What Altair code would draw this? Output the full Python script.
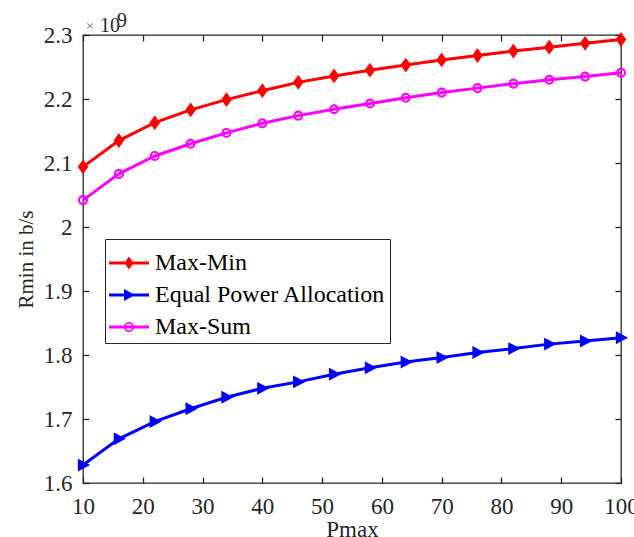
import altair as alt
import pandas as pd

# ---- data (values in units of 1e9 b/s) ----
pmax = [10, 16, 22, 28, 34, 40, 46, 52, 58, 64, 70, 76, 82, 88, 94, 100]
series_names = ["Max-Min", "Equal Power Allocation", "Max-Sum"]
max_min = [2.094, 2.135, 2.163, 2.183, 2.199, 2.213, 2.226, 2.236, 2.245, 2.253,
           2.261, 2.268, 2.275, 2.281, 2.287, 2.293]
equal_power = [1.628, 1.669, 1.696, 1.716, 1.734, 1.748, 1.758, 1.770, 1.780, 1.789,
               1.796, 1.804, 1.810, 1.817, 1.822, 1.827]
max_sum = [2.042, 2.083, 2.111, 2.130, 2.147, 2.162, 2.174, 2.184, 2.193, 2.202,
           2.210, 2.217, 2.224, 2.230, 2.235, 2.241]
x_ticks = [10, 20, 30, 40, 50, 60, 70, 80, 90, 100]
y_ticks = [1.6, 1.7, 1.8, 1.9, 2.0, 2.1, 2.2, 2.3]

colors = ["#ff0000", "#0000ff", "#ff00ff"]

# legend glyphs: a filled bar (the line sample) plus the marker, all as fill
LINE = "M-1,-0.07L1,-0.07L1,0.07L-1,0.07Z"
RING = ("M0.25,0C0.25,0.138,0.138,0.25,0,0.25C-0.138,0.25,-0.25,0.138,-0.25,0"
        "C-0.25,-0.138,-0.138,-0.25,0,-0.25C0.138,-0.25,0.25,-0.138,0.25,0Z"
        "M0.17,0C0.17,-0.094,0.094,-0.17,0,-0.17C-0.094,-0.17,-0.17,-0.094,-0.17,0"
        "C-0.17,0.094,-0.094,0.17,0,0.17C0.094,0.17,0.17,0.094,0.17,0Z")
legend_shapes = [
    LINE + "M0,-0.33L0.23,0L0,0.33L-0.23,0Z",
    LINE + "M-0.25,-0.3L0.3,0L-0.25,0.3Z",
    LINE + RING,
]
diamond = "M0,-1L0.72,0L0,1L-0.72,0Z"
tri_right = "M-0.8,-0.95L1,0L-0.8,0.95Z"

rows = []
for name, vals in zip(series_names, [max_min, equal_power, max_sum]):
    for p, v in zip(pmax, vals):
        rows.append({"Pmax": p, "Rmin": v, "series": name})
df = pd.DataFrame(rows)

FONT = "Liberation Serif"
TXT = "#262626"
AX = "#262626"

xs = alt.Scale(domain=[10, 100], nice=False, zero=False)
ys = alt.Scale(domain=[1.6, 2.3], nice=False, zero=False)

x_bottom = alt.Axis(orient="bottom", values=x_ticks, title="Pmax", domain=False, grid=False,
                    tickSize=6, offset=-6, tickColor=AX, tickWidth=1.3,
                    labelPadding=12, labelFont=FONT, labelFontSize=23, labelColor=TXT,
                    labelFlush=False, titleFont=FONT, titleFontSize=23, titleColor=TXT,
                    titleFontWeight="normal", titleBaseline="alphabetic", titleY=59)
y_left = alt.Axis(orient="left", values=y_ticks, title="Rmin in b/s", domain=False, grid=False,
                  tickSize=6, offset=-6, tickColor=AX, tickWidth=1.3, format=".1~f",
                  labelPadding=11, labelFont=FONT, labelFontSize=23, labelColor=TXT,
                  labelFlush=False, titleFont=FONT, titleFontSize=21, titleColor=TXT,
                  titleFontWeight="normal", titleAngle=270, titleAlign="center",
                  titleBaseline="alphabetic", titleX=-57, titleY=224)
x_top = alt.Axis(orient="top", values=x_ticks, title=None, labels=False, domain=False,
                 grid=False, tickSize=6, offset=-6, tickColor=AX, tickWidth=1.3)
y_right = alt.Axis(orient="right", values=y_ticks, title=None, labels=False, domain=False,
                   grid=False, tickSize=6, offset=-6, tickColor=AX, tickWidth=1.3)

base = alt.Chart(df)

# the layer that carries the bottom/left axes (invisible)
axes_main = base.mark_line(opacity=0).encode(
    x=alt.X("Pmax:Q", scale=xs, axis=x_bottom),
    y=alt.Y("Rmin:Q", scale=ys, axis=y_left),
    detail="series:N",
)
# the layer that carries the inward ticks on top/right (invisible)
axes_box = base.mark_line(opacity=0).encode(
    x=alt.X("Pmax:Q", scale=xs, axis=x_top),
    y=alt.Y("Rmin:Q", scale=ys, axis=y_right),
    detail="series:N",
)

def sel(name):
    return base.transform_filter(alt.datum.series == name)

def xy():
    return dict(x=alt.X("Pmax:Q", scale=xs, axis=None), y=alt.Y("Rmin:Q", scale=ys, axis=None))

series_layers = []
point_styles = [
    dict(shape=diamond, size=150, filled=True, stroke=colors[0], strokeWidth=1.5),
    dict(shape=tri_right, size=121, filled=True, stroke=colors[1], strokeWidth=1.5),
    dict(shape="circle", size=62, filled=False, strokeWidth=2.2),
]
for name, col in zip(series_names, colors):
    series_layers.append(sel(name).mark_line(color=col, strokeWidth=3).encode(**xy()))
for name, col, st in zip(series_names, colors, point_styles):
    series_layers.append(sel(name).mark_point(opacity=1, color=col, **st).encode(**xy()))

leg = alt.Legend(title=None, orient="none", legendX=22, legendY=204, fillColor="white",
                 strokeColor="#262626", padding=4, cornerRadius=0,
                 labelFont=FONT, labelFontSize=24, labelColor="#000000", labelOffset=6,
                 symbolSize=1600, symbolStrokeWidth=0, symbolOpacity=1, rowPadding=-4,
                 labelLimit=400)

# layer with no rows of its own: it only carries the legend (domains are explicit)
legend_layer = base.transform_filter("false").mark_point(
    opacity=1, filled=True, size=1600, strokeWidth=0).encode(
    x=alt.X("Pmax:Q", scale=xs, axis=None),
    y=alt.Y("Rmin:Q", scale=ys, axis=None),
    color=alt.Color("series:N", scale=alt.Scale(domain=series_names, range=colors), legend=leg),
    shape=alt.Shape("series:N", scale=alt.Scale(domain=series_names, range=legend_shapes), legend=leg),
)

mult_df = pd.DataFrame({"times": ["×"], "ten": ["10"], "nine": ["9"]})
mult = alt.Chart(mult_df)
t_times = mult.mark_text(font=FONT, fontSize=15, color="#707070", align="center",
                         baseline="alphabetic").encode(
    x=alt.value(7), y=alt.value(-4), text="times:N")
t_ten = mult.mark_text(font=FONT, fontSize=20, color=TXT, align="left",
                       baseline="alphabetic").encode(
    x=alt.value(17), y=alt.value(-3), text="ten:N")
t_nine = mult.mark_text(font=FONT, fontSize=20, color=TXT, align="left",
                        baseline="alphabetic").encode(
    x=alt.value(34), y=alt.value(-8), text="nine:N")

chart = alt.layer(
    axes_main, axes_box, *series_layers, legend_layer, t_times, t_ten, t_nine
).resolve_axis(
    x="independent", y="independent"
).properties(
    width=538, height=448,
    padding={"left": 83, "top": 35, "right": 13, "bottom": 54},
    autosize=alt.AutoSizeParams(type="none"),
    background="white",
).configure_view(
    stroke=AX, strokeWidth=1.3
)

chart.save("out.html", embed_options={"renderer": "svg", "actions": False})
